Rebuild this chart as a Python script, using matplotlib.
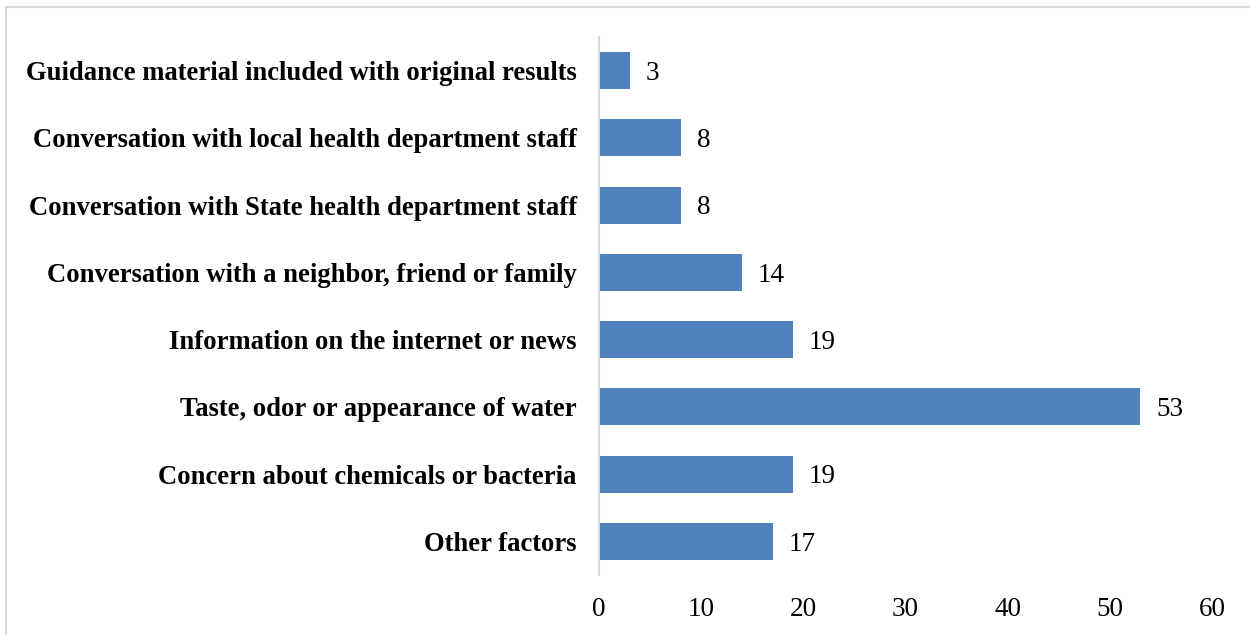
import matplotlib.pyplot as plt
from matplotlib.patches import Rectangle

categories = [
    "Guidance material included with original results",
    "Conversation with local health department staff",
    "Conversation with State health department staff",
    "Conversation with a neighbor, friend or family",
    "Information on the internet or news",
    "Taste, odor or appearance of water",
    "Concern about chemicals or bacteria",
    "Other factors",
]
values = [3, 8, 8, 14, 19, 53, 19, 17]
x_ticks = [0, 10, 20, 30, 40, 50, 60]

plt.rcParams["font.family"] = ["Liberation Serif", "DejaVu Serif"]

fig = plt.figure(figsize=(12.5, 6.35), dpi=100)
ax = fig.add_axes([0.4792, 0.0945, 0.4904, 0.8472])

pos = list(range(len(categories)))
ax.barh(pos, values, height=0.55, color="#4f81bd")
for p, v in zip(pos, values):
    ax.annotate(str(v), (v, p), xytext=(11.5, -2), textcoords="offset points",
                va="center", ha="left", fontsize=19.5)

ax.set_ylim(len(categories) - 0.5, -0.5)
ax.set_xlim(0, 60)
ax.set_xticks(x_ticks)
ax.set_yticks(pos)
ax.set_yticklabels(categories, fontweight="bold", fontsize=19.2)
ax.tick_params(axis="x", length=0, labelsize=19.5, pad=16)
ax.tick_params(axis="y", length=0, pad=16)
for side in ["top", "right", "bottom"]:
    ax.spines[side].set_visible(False)
ax.spines["left"].set_color("#d9d9d9")
ax.spines["left"].set_linewidth(1.5)

# outer chart border
fig.patches.append(Rectangle((6 / 1250, -0.1), 1.2, 628 / 635 + 0.1,
                             transform=fig.transFigure, fill=False,
                             edgecolor="#d9d9d9", linewidth=1.5))

fig.savefig("out.png", dpi=100)
